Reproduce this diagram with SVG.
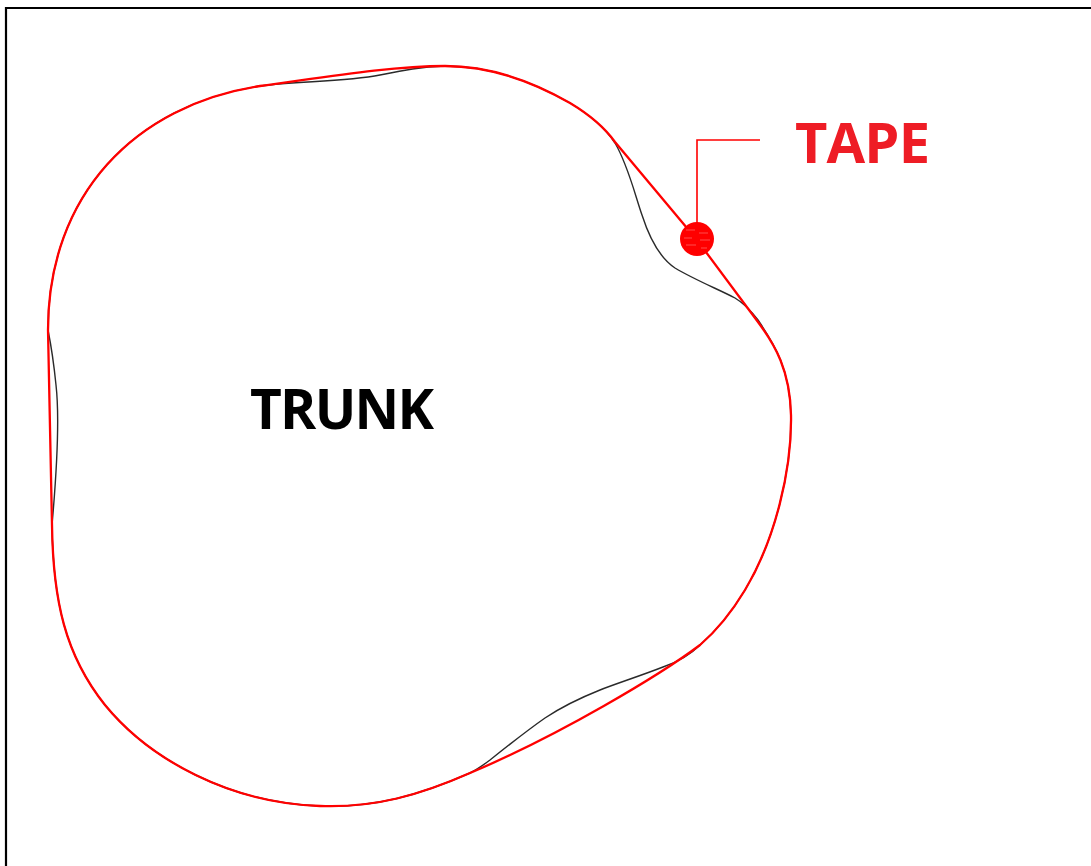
<svg xmlns="http://www.w3.org/2000/svg" width="1091" height="866" viewBox="0 0 1091 866">
<style>
.frame{fill:none;stroke:#000;stroke-width:2.2}
.trunk{fill:none;stroke:#2a2a2a;stroke-width:1.4}
.tape{fill:none;stroke:#ff0000;stroke-width:2.3}
.leader{fill:none;stroke:#ff0000;stroke-width:1.6}
.lbl{font-family:"Open Sans","Liberation Sans",sans-serif;font-weight:bold}
.hatch{stroke:#ff8080;stroke-width:1;opacity:0.6}
</style>
<rect width="1091" height="866" fill="#ffffff"/>
<path class="frame" d="M6 866 L6 8 L1091 8"/>
<g id="trunk">
<path class="trunk" d="M260 86 C300 81 345 82 380 75 C405 70 420 67 445 66 C490 66 530 80 570 103 C590 115 605 128 615 143 C628 165 635 195 642 215 C650 240 660 258 675 268 C695 280 720 290 735 298 C745 304 752 312 758 320 C775 345 790 370 791 415 C792 470 775 540 745 590 C730 615 715 632 700 645 C690 655 675 663 663 667 C640 676 615 684 600 690 C580 698 560 708 545 718 C525 732 505 748 490 760 C482 766 476 770 470 773 C420 795 375 808 320 806 C230 803 150 760 105 705 C65 655 53 600 52 525 C56 480 60 420 56 385 C54 365 51 345 48 330 C48 195 135 105 260 86 Z"/>
<text class="lbl" x="250" y="429" font-size="55" fill="#000" textLength="184">TRUNK</text>
</g>
<g id="tape">
<path class="tape" d="M260 86 C320 78 390 66 445 66 C490 66 530 80 570 103 C590 115 605 128 615 142 L697 240 L758 322 C775 345 790 370 791 415 C792 470 775 540 745 590 C730 615 715 632 700 645 C660 675 560 735 470 773 C420 795 375 808 320 806 C230 803 150 760 105 705 C65 655 53 600 52 525 L48 330 C48 195 135 105 260 86 Z"/>
<circle cx="697" cy="239" r="17" fill="#ff0000"/>
<g class="hatch">
<line x1="686" y1="230" x2="695" y2="230"/>
<line x1="699" y1="233" x2="708" y2="233"/>
<line x1="684" y1="238" x2="692" y2="238"/>
<line x1="700" y1="240" x2="710" y2="240"/>
<line x1="686" y1="245" x2="696" y2="245"/>
<line x1="701" y1="248" x2="707" y2="248"/>
</g>
<text class="lbl" x="795" y="163" font-size="56" fill="#ee1c25" textLength="135">TAPE</text>
</g>
<g id="connectors">
<path class="leader" d="M697 239 L697 140 L760 140"/>
</g>
</svg>
